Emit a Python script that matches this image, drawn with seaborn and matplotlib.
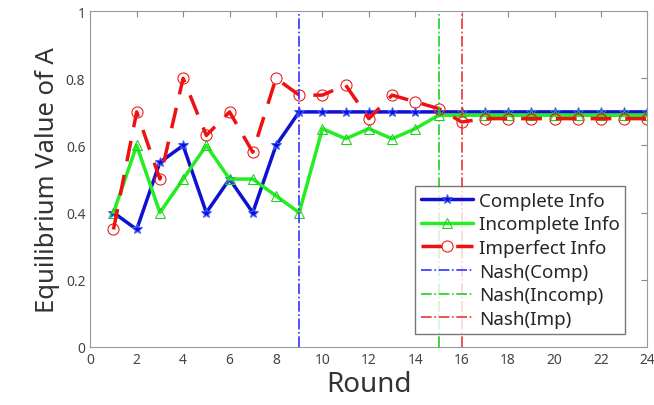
import numpy as np
import pandas as pd
import matplotlib
matplotlib.use('Agg')
import matplotlib.pyplot as plt
import seaborn as sns

rounds = list(range(1, 25))
complete_info = [0.40, 0.35, 0.55, 0.60, 0.40, 0.50, 0.40, 0.60, 0.70, 0.70, 0.70, 0.70,
                 0.70, 0.70, 0.70, 0.70, 0.70, 0.70, 0.70, 0.70, 0.70, 0.70, 0.70, 0.70]
incomplete_info = [0.40, 0.60, 0.40, 0.50, 0.60, 0.50, 0.50, 0.45, 0.40, 0.65, 0.62, 0.65,
                   0.62, 0.65, 0.69, 0.69, 0.69, 0.69, 0.69, 0.69, 0.69, 0.69, 0.69, 0.69]
imperfect_info = [0.35, 0.70, 0.50, 0.80, 0.63, 0.70, 0.58, 0.80, 0.75, 0.75, 0.78, 0.68,
                  0.75, 0.73, 0.71, 0.67, 0.68, 0.68, 0.68, 0.68, 0.68, 0.68, 0.68, 0.68]
nash_comp = 9
nash_incomp = 15
nash_imp = 16

sns.set_style('white')
plt.rcParams['font.family'] = ['Noto Sans', 'DejaVu Sans']

df = pd.DataFrame({'Round': rounds, 'Complete Info': complete_info,
                   'Incomplete Info': incomplete_info, 'Imperfect Info': imperfect_info})

fig, ax = plt.subplots(figsize=(6.54, 4.06), dpi=100)
fig.subplots_adjust(left=0.138, right=0.99, top=0.97, bottom=0.143)

sns.lineplot(data=df, x='Round', y='Complete Info', ax=ax, color='#1010d0', lw=2.5,
             marker='*', markersize=7, mec='#4060ff', label='Complete Info')
sns.lineplot(data=df, x='Round', y='Incomplete Info', ax=ax, color='#22ee22', lw=2.5,
             marker='^', markersize=7, mfc='none', mec='#22cc22', label='Incomplete Info')
sns.lineplot(data=df, x='Round', y='Imperfect Info', ax=ax, color='#ee1111', lw=2.5,
             marker='o', markersize=8, mfc='none', mec='#ee1111', label='Imperfect Info')
ax.lines[-1].set_dashes([6, 4])

ax.axvline(nash_comp, color='#3333ff', lw=1.2, ls='-.', label='Nash(Comp)')
ax.axvline(nash_incomp, color='#22cc22', lw=1.2, ls='-.', label='Nash(Incomp)')
ax.axvline(nash_imp, color='#ee3333', lw=1.2, ls='-.', label='Nash(Imp)')

ax.set_xlim(0, 24)
ax.set_ylim(0, 1)
ax.set_xticks(range(0, 25, 2))
ax.set_yticks(np.arange(0, 1.01, 0.2))
ax.set_yticklabels(['0', '0.2', '0.4', '0.6', '0.8', '1'])
ax.tick_params(direction='in', top=True, right=True, length=4, color='#888888',
               labelcolor='#444444', labelsize=10)
for s in ax.spines.values():
    s.set_color('#999999')
ax.set_xlabel('Round', fontsize=20, color='#333333', labelpad=2)
ax.set_ylabel('Equilibrium Value of A', fontsize=18.5, color='#333333', labelpad=4)

leg = ax.legend(loc='lower right', fontsize=13.5, frameon=True, fancybox=False,
                edgecolor='#555555', handlelength=2.8, handletextpad=0.3,
                labelspacing=0.3, borderpad=0.3, bbox_to_anchor=(0.977, 0.012))
leg.get_frame().set_linewidth(1.0)

plt.savefig('out.png', dpi=100)
